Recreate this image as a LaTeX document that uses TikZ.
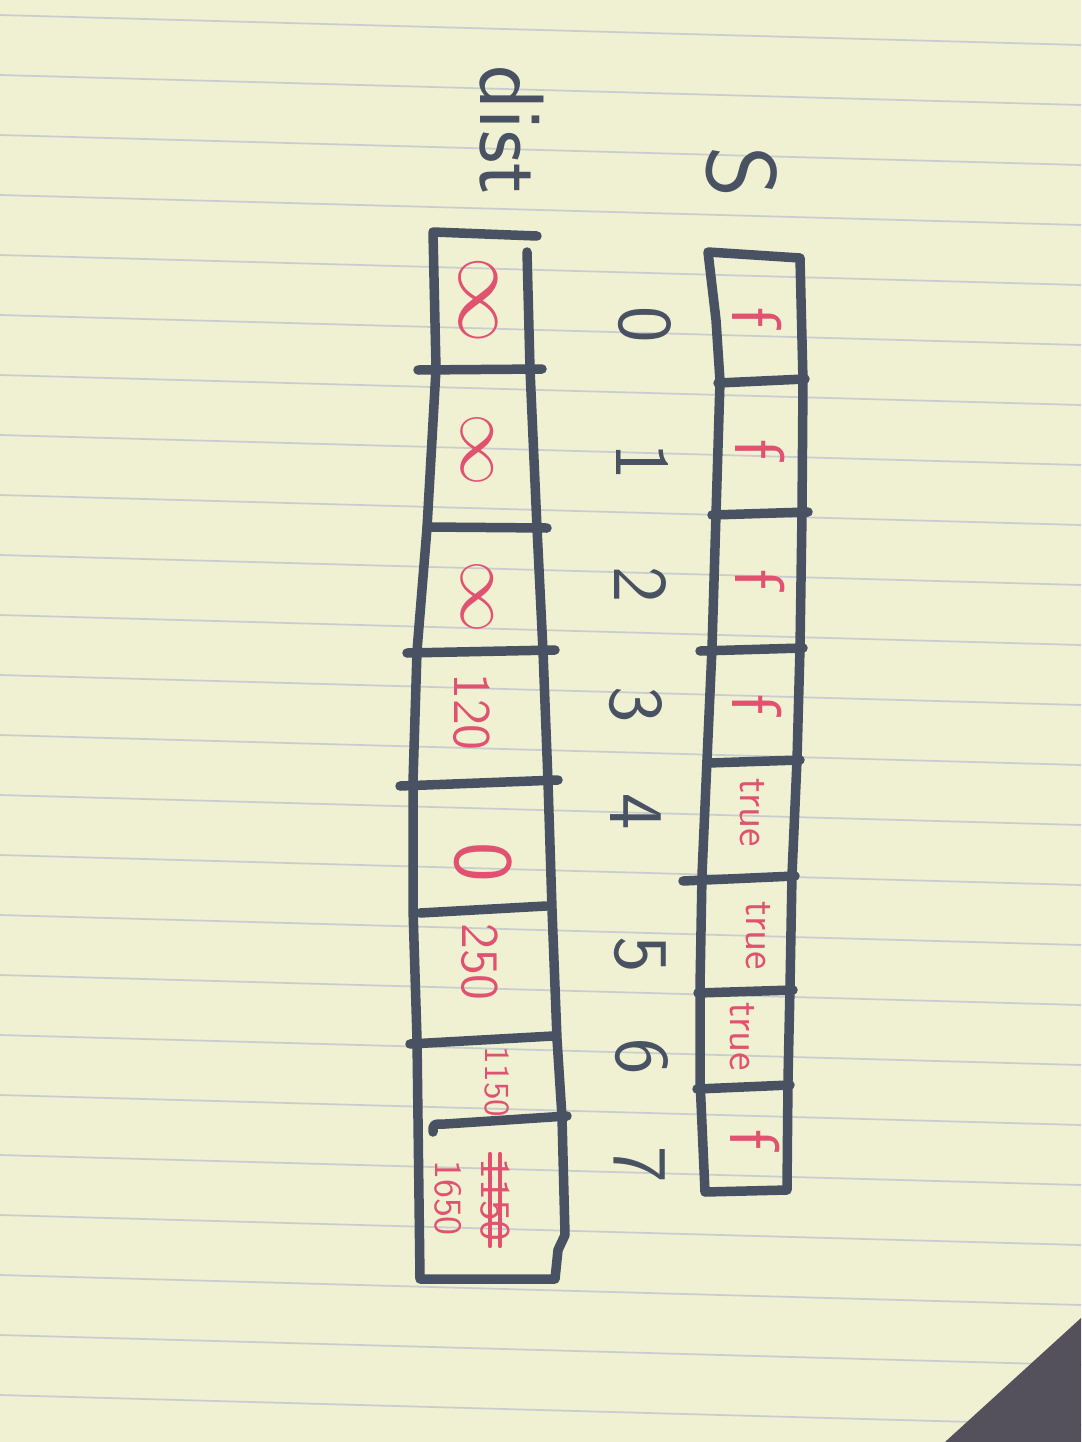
\documentclass[tikz,border=0pt]{standalone}
\definecolor{paper}{RGB}{240,240,210}
\definecolor{ruling}{RGB}{200,206,206}
\definecolor{desk}{RGB}{84,80,92}
\definecolor{inkgray}{RGB}{72,82,98}
\definecolor{redpen}{RGB}{224,82,112}
\begin{document}
\begin{tikzpicture}[x=0.01cm,y=-0.01cm,
  ink/.style={draw=inkgray,line width=2.7pt,line cap=round,line join=round},
  redtxt/.style={text=redpen,rotate=-90,inner sep=0pt,font=\sffamily\fontsize{#1}{#1}\selectfont},
  darktxt/.style={text=inkgray,rotate=-90,inner sep=0pt,font=\sffamily\fontsize{#1}{#1}\selectfont},
  strike/.style={draw=redpen,line width=1.2pt,line cap=round}]
  \useasboundingbox (0,0) rectangle (1081,1442);

  % the page
  \fill[paper] (0,0) rectangle (1081,1442);
  \foreach \k in {0,...,24}
    \draw[ruling,line width=0.5pt] (0,{15+60*\k}) -- (1081,{45+60*\k});
  \fill[desk] (945,1442) -- (1081,1318) -- (1081,1442) -- cycle;

  % S array
  \draw[ink] (708,252) -- (800,258) -- (803,381) -- (802,514) -- (800,648) -- (797,760)
    -- (792,875) -- (790,987) -- (788,1080) -- (787,1190) -- (705,1192) -- (700,1080)
    -- (700,987) -- (702,875) -- (707,760) -- (712,648) -- (716,514) -- (720,381)
    -- (716,320) -- cycle;
  \draw[ink] (718,383) -- (805,379);
  \draw[ink] (712,515) -- (808,512);
  \draw[ink] (700,651) -- (803,648);
  \draw[ink] (708,763) -- (800,760);
  \draw[ink] (683,881) -- (795,876);
  \draw[ink] (698,993) -- (793,990);
  \draw[ink] (697,1089) -- (790,1085);

  \node[redtxt=20] (s0) at (757,318) {f};
  \node[redtxt=20] (s1) at (760,450) {f};
  \node[redtxt=20] (s2) at (760,580) {f};
  \node[redtxt=20] (s3) at (757,705) {f};
  \node[redtxt=12] (s4) at (752,813) {true};
  \node[redtxt=12] (s5) at (758,936) {true};
  \node[redtxt=12] (s6) at (742,1037) {true};
  \node[redtxt=20] (s7) at (755,1140) {f};

  \node[darktxt=28] (lblS) at (742,172) {S};

  % indices
  \node[darktxt=22] (i0) at (645,325) {0};
  \node[darktxt=22] (i1) at (642,462) {1};
  \node[darktxt=22] (i2) at (640,585) {2};
  \node[darktxt=22] (i3) at (636,705) {3};
  \node[darktxt=22] (i4) at (636,812) {4};
  \node[darktxt=22] (i5) at (640,955) {5};
  \node[darktxt=22] (i6) at (642,1057) {6};
  \node[darktxt=22] (i7) at (640,1165) {7};

  % dist array
  \draw[ink] (537,236) -- (433,232) -- (436,369) -- (427,528) -- (417,651) -- (413,782)
    -- (413,909) -- (417,1039) -- (420,1279) -- (555,1279) -- (558,1250) -- (565,1235)
    -- (562,1117) -- (557,1039) -- (552,909) -- (548,782) -- (543,651) -- (537,528)
    -- (530,369) -- (527,252);
  \draw[ink] (418,370) -- (542,369);
  \draw[ink] (427,527) -- (547,528);
  \draw[ink] (407,653) -- (555,650);
  \draw[ink] (400,786) -- (558,780);
  \draw[ink] (420,913) -- (546,906);
  \draw[ink] (410,1044) -- (553,1036);
  \draw[ink] (433,1132) .. controls (433,1124) .. (445,1124) -- (567,1116);

  \node[redtxt=24] (d0) at (478,300) {$\infty$};
  \node[redtxt=22] (d1) at (477,450) {$\infty$};
  \node[redtxt=20] (d2) at (477,597) {$\infty$};
  \node[redtxt=15] (d3) at (472,712) {120};
  \node[redtxt=24] (d4) at (483,862) {0};
  \node[redtxt=15] (d5) at (480,962) {250};
  \node[redtxt=10] (d6) at (497,1082) {1150};
  \node[redtxt=12] (d7old) at (495,1200) {1150};
  \draw[strike] ([shift={(-5,-4)}]d7old.west) -- ([shift={(-5,4)}]d7old.east);
  \draw[strike] ([shift={(5,-4)}]d7old.west) -- ([shift={(5,4)}]d7old.east);
  \node[redtxt=11] (d7) at (448,1198) {1650};

  \node[darktxt=26] (lbldist) at (512,130) {dist};
\end{tikzpicture}
\end{document}
